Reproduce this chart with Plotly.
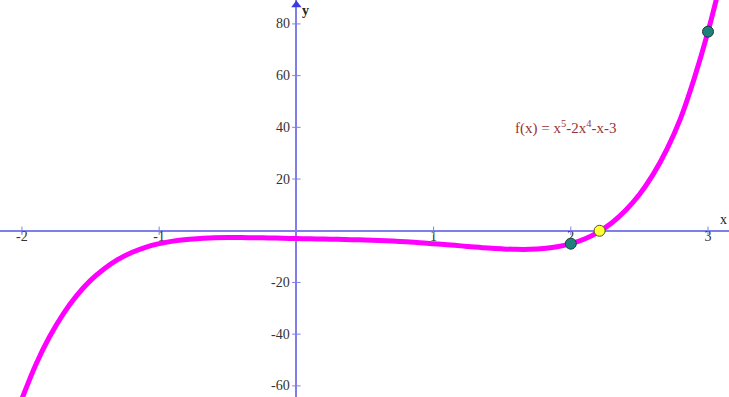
import plotly.graph_objects as go

# f(x) = x^5 - 2x^4 - x - 3
xs = [-2.0, -1.9, -1.8, -1.7, -1.6, -1.5, -1.4, -1.3, -1.2, -1.1, -1.0,
      -0.9, -0.8, -0.7, -0.6, -0.5, -0.4, -0.3, -0.2, -0.1, 0.0,
      0.1, 0.2, 0.3, 0.4, 0.5, 0.6, 0.7, 0.8, 0.9, 1.0,
      1.1, 1.2, 1.3, 1.4, 1.5, 1.6, 1.7, 1.8, 1.9, 2.0,
      2.1, 2.2, 2.3, 2.4, 2.5, 2.6, 2.7, 2.8, 2.9, 3.0, 3.1]
ys = [-65, -51.9, -41.1, -32.2, -25.0, -19.2, -14.7, -11.1, -8.4, -6.4, -5.0,
      -4.0, -3.35, -2.95, -2.75, -2.65, -2.65, -2.7, -2.8, -2.9, -3.0,
      -3.1, -3.2, -3.3, -3.45, -3.6, -3.8, -4.0, -4.3, -4.6, -5.0,
      -5.4, -5.85, -6.3, -6.7, -7.0, -7.2, -7.2, -6.9, -6.2, -5.0,
      -3.2, -0.5, 3.1, 7.9, 14.0, 21.8, 31.5, 43.5, 59.0, 77.0, 98.0]

pts_x = [2.0, 3.0]
pts_y = [-5.0, 77.0]
root_x = [2.21]
root_y = [0.0]

xtick_vals = [-2, -1, 1, 2, 3]
xtick_text = ["-2", "-1", "1", "2", "3"]
ytick_vals = [80, 60, 40, 20, -20, -40, -60]
ytick_text = ["80", "60", "40", "20", "-20", "-40", "-60"]

label = "f(x) = x<sup>5</sup>-2x<sup>4</sup>-x-3"

axis_col = "#7f7fea"
serif = "Liberation Serif"

fig = go.Figure()

# x tick labels first, so the curve paints over them like in the original
fig.add_trace(go.Scatter(
    x=xtick_vals, y=[0] * len(xtick_vals), mode="text", text=xtick_text,
    textposition="bottom center",
    textfont=dict(family=serif, size=14, color="#333333"),
    showlegend=False, hoverinfo="skip"))

# tick marks
fig.add_trace(go.Scatter(
    x=xtick_vals, y=[0] * len(xtick_vals), mode="markers",
    marker=dict(symbol="line-ns", size=6, line=dict(color=axis_col, width=1)),
    showlegend=False, hoverinfo="skip"))
fig.add_trace(go.Scatter(
    x=[0] * len(ytick_vals), y=ytick_vals, mode="markers",
    marker=dict(symbol="line-ew", size=6, line=dict(color=axis_col, width=1)),
    showlegend=False, hoverinfo="skip"))

# arrowhead on y axis
fig.add_trace(go.Scatter(
    x=[0], y=[87.3], mode="markers",
    marker=dict(symbol="triangle-up", size=9, color="#3a3ae0"),
    showlegend=False, hoverinfo="skip"))

# curve
fig.add_trace(go.Scatter(
    x=xs, y=ys, mode="lines", line=dict(color="#ff00ff", width=5, shape="spline"),
    showlegend=False))

# points
fig.add_trace(go.Scatter(
    x=pts_x, y=pts_y, mode="markers",
    marker=dict(size=11, color="#1f7f7a", line=dict(color="#1d3d3d", width=1)),
    showlegend=False))
fig.add_trace(go.Scatter(
    x=root_x, y=root_y, mode="markers",
    marker=dict(size=11, color="#ffff33", line=dict(color="#555522", width=1)),
    showlegend=False))

# y tick labels, a few px left of the axis
for v, t in zip(ytick_vals, ytick_text):
    fig.add_annotation(x=0, y=v, text=t, showarrow=False, xanchor="right",
                       xshift=-4,
                       font=dict(family=serif, size=14, color="#333333"))

fig.add_annotation(x=1.96, y=40, text=label, showarrow=False,
                   font=dict(family=serif, size=15, color="#993333"))
fig.add_annotation(x=0, y=85, text="<b>y</b>", showarrow=False, xanchor="left",
                   xshift=4, font=dict(family=serif, size=14, color="#222222"))
fig.add_annotation(x=3.153, y=0, text="x", showarrow=False, xanchor="right",
                   yanchor="bottom", yshift=2,
                   font=dict(family=serif, size=14, color="#222222"))

fig.update_layout(
    width=729, height=397,
    margin=dict(l=0, r=0, t=0, b=0),
    paper_bgcolor="white", plot_bgcolor="white",
    xaxis=dict(range=[-2.16, 3.153], showgrid=False, showticklabels=False,
               ticks="", zeroline=True, zerolinecolor=axis_col, zerolinewidth=1.5),
    yaxis=dict(range=[-64.3, 89.25], showgrid=False, showticklabels=False,
               ticks="", zeroline=True, zerolinecolor=axis_col, zerolinewidth=1.5),
)

# drop the browser's default body margin so the chart sits at the corner
fig.write_html("out.html", config={"displayModeBar": False},
               post_script="document.body.style.margin='0';"
                           "document.body.style.overflow='hidden';")
